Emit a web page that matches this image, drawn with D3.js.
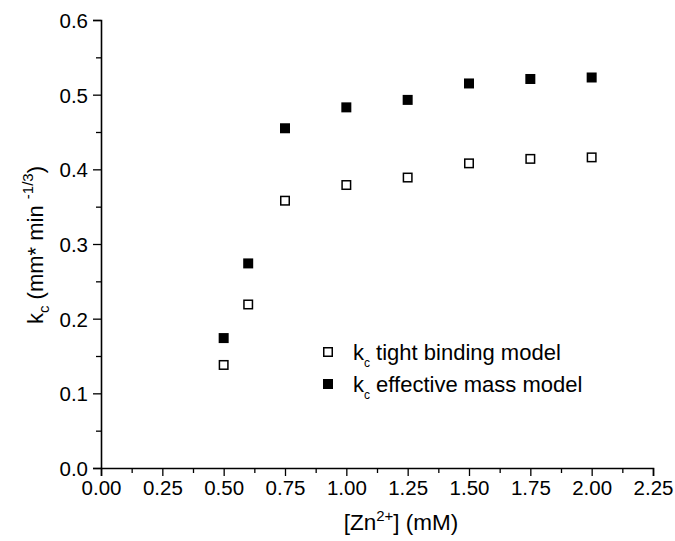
<!DOCTYPE html>
<html>
<head>
<meta charset="utf-8">
<script src="https://cdn.jsdelivr.net/npm/d3@7"></script>
<style>
body { margin: 0; background: #fff; }
svg { display: block; font-family: "Liberation Sans", Arial, sans-serif; }
</style>
</head>
<body>
<svg width="675" height="541"></svg>
<script>
var width = 675, height = 541;
var margin = {left: 101, top: 20, right: 22, bottom: 73};

// data
var zn = [0.5, 0.6, 0.75, 1.0, 1.25, 1.5, 1.75, 2.0];
var tightBinding = [0.138, 0.219, 0.358, 0.379, 0.389, 0.408, 0.414, 0.416];
var effectiveMass = [0.174, 0.274, 0.455, 0.483, 0.493, 0.515, 0.521, 0.523];
var xTicks = [0, 0.25, 0.5, 0.75, 1.0, 1.25, 1.5, 1.75, 2.0, 2.25];
var yTicks = [0, 0.1, 0.2, 0.3, 0.4, 0.5, 0.6];

var svg = d3.select("svg");

var x = d3.scaleLinear().domain([0, 2.25]).range([margin.left, width - margin.right]);
var y = d3.scaleLinear().domain([0, 0.6]).range([height - margin.bottom, margin.top]);

// minor ticks
var xMinor = d3.range(0.125, 2.25, 0.25);
var yMinor = d3.range(0.05, 0.6, 0.1);

var gx = svg.append("g")
    .attr("transform", `translate(0,${y(0)})`)
    .call(d3.axisBottom(x).tickValues(xTicks).tickFormat(d3.format(".2f")).tickSize(8).tickPadding(4));
svg.append("g")
    .attr("transform", `translate(0,${y(0)})`)
    .call(d3.axisBottom(x).tickValues(xMinor).tickFormat("").tickSize(5))
    .select(".domain").remove();

var gy = svg.append("g")
    .attr("transform", `translate(${x(0)},0)`)
    .call(d3.axisLeft(y).tickValues(yTicks).tickFormat(d3.format(".1f")).tickSize(8).tickPadding(5));
svg.append("g")
    .attr("transform", `translate(${x(0)},0)`)
    .call(d3.axisLeft(y).tickValues(yMinor).tickFormat("").tickSize(5))
    .select(".domain").remove();

svg.selectAll(".domain").attr("stroke", "#000").attr("stroke-width", 1.6);
svg.selectAll(".tick line").attr("stroke", "#000").attr("stroke-width", 1.3);
svg.selectAll(".tick text").attr("font-size", 20.5).attr("fill", "#000")
    .attr("font-family", "'Liberation Sans', Arial, sans-serif");
gy.selectAll(".tick text").attr("dy", "0.36em");

// points
var s = 10;
svg.append("g").selectAll("rect")
    .data(zn)
    .enter().append("rect")
    .attr("x", (d, i) => x(d) - s / 2 + 0.75)
    .attr("y", (d, i) => y(tightBinding[i]) - s / 2 + 0.75)
    .attr("width", s - 1.5).attr("height", s - 1.5)
    .attr("fill", "#fff").attr("stroke", "#000").attr("stroke-width", 1.5);

svg.append("g").selectAll("rect")
    .data(zn)
    .enter().append("rect")
    .attr("x", d => x(d) - s / 2)
    .attr("y", (d, i) => y(effectiveMass[i]) - s / 2)
    .attr("width", s).attr("height", s)
    .attr("fill", "#000");

// legend
var legend = [
    {label: " tight binding model", filled: false},
    {label: " effective mass model", filled: true}
];
var lg = svg.append("g").attr("transform", "translate(328,352)");
legend.forEach(function(d, i) {
    var row = lg.append("g").attr("transform", `translate(0,${i * 32})`);
    row.append("rect")
        .attr("x", d.filled ? -5 : -4.25).attr("y", d.filled ? -5 : -4.25)
        .attr("width", d.filled ? 10 : 8.5).attr("height", d.filled ? 10 : 8.5)
        .attr("fill", d.filled ? "#000" : "#fff")
        .attr("stroke", d.filled ? "none" : "#000").attr("stroke-width", 1.5);
    var t = row.append("text").attr("x", 25).attr("y", 8).attr("font-size", 22).attr("fill", "#000");
    t.append("tspan").text("k");
    t.append("tspan").attr("font-size", 12).attr("dy", 7).text("c");
    t.append("tspan").attr("dy", -7).text(d.label);
});

// axis titles
var xt = svg.append("text")
    .attr("x", 401).attr("y", 530)
    .attr("text-anchor", "middle").attr("font-size", 22.5);
xt.append("tspan").text("[Zn");
xt.append("tspan").attr("font-size", 15).attr("dy", -9).text("2+");
xt.append("tspan").attr("dy", 9).text("] (mM)");

var yt = svg.append("text")
    .attr("transform", `translate(43,245) rotate(-90)`)
    .attr("text-anchor", "middle").attr("font-size", 22);
yt.append("tspan").text("k");
yt.append("tspan").attr("font-size", 15).attr("dy", 6).text("c");
yt.append("tspan").attr("dy", -6).text(" (mm* min ");
yt.append("tspan").attr("font-size", 15).attr("dy", -10).text("-1/3");
yt.append("tspan").attr("dy", 10).text(")");
</script>
</body>
</html>
